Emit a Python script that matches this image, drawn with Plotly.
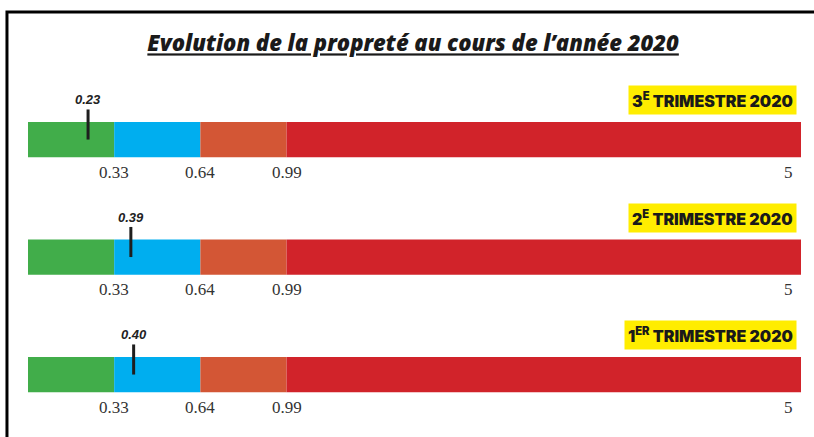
import numpy as np
import plotly.graph_objects as go

# ---- data ----
periods = ["1<sup>ER</sup> TRIMESTRE 2020", "2<sup>E</sup> TRIMESTRE 2020", "3<sup>E</sup> TRIMESTRE 2020"]
values = [0.40, 0.39, 0.23]
bounds = [0, 0.33, 0.64, 0.99, 5]
tick_labels = ["0.33", "0.64", "0.99", "5"]
seg_colors = ["#41AD4A", "#00AEEF", "#D35635", "#D1232A"]
title = "Evolution de la propreté au cours de l’année 2020"

# piecewise display scale (first three bands equal width, last band long)
slots = [0, 1, 2, 3, 8.97]
def pos(v):
    return float(np.interp(v, bounds, slots))

rows = list(range(len(periods)))
fig = go.Figure()

for k in range(len(bounds) - 1):
    a, b = pos(bounds[k]), pos(bounds[k + 1])
    fig.add_trace(go.Bar(
        orientation="h", y=rows, x=[b - a] * len(rows), base=[a] * len(rows),
        width=0.3, marker=dict(color=seg_colors[k], line=dict(width=0)),
        showlegend=False, hoverinfo="skip"))

mx, my = [], []
for r, v in zip(rows, values):
    mx += [pos(v), pos(v), None]
    my += [r, r + 0.256, None]
fig.add_trace(go.Scatter(x=mx, y=my, mode="lines", line=dict(color="#1e1e1e", width=3),
                         showlegend=False, hoverinfo="skip"))

ann = []
for r, v, p in zip(rows, values, periods):
    ann.append(dict(x=pos(v), y=r + 0.34, text=f"<b><i>{v:.2f}</i></b>", showarrow=False,
                    font=dict(family="Liberation Sans", size=13, color="#222"), xanchor="center", yanchor="middle"))
    ann.append(dict(x=0.995, xref="paper", y=r + 0.336, text=p, showarrow=False,
                    bgcolor="#FFED00", borderpad=3, xanchor="right", yanchor="middle",
                    font=dict(family="Inter", size=16, color="#1a1a1a", weight=900)))
    for t, bv in zip(tick_labels, bounds[1:]):
        last = bv == bounds[-1]
        ann.append(dict(x=pos(bv), y=r - 0.277, text=t, showarrow=False,
                        xanchor="right" if last else "center", xshift=-6 if last else 0, yanchor="middle",
                        font=dict(family="Liberation Serif", size=17, color="#333")))

fig.update_layout(
    width=814, height=437,
    margin=dict(l=28, r=13, t=60, b=7),
    paper_bgcolor="white", plot_bgcolor="white",
    barmode="overlay",
    title=dict(text=f"<i><u>{title}</u></i>", x=0.5075, xanchor="center", y=0.9, yanchor="middle",
               yref="container", font=dict(family="Open Sans", size=22, color="#1a1a1a", weight=800)),
    xaxis=dict(range=[0, slots[-1]], visible=False, fixedrange=True),
    yaxis=dict(range=[-0.472, 2.677], visible=False, fixedrange=True),
    annotations=ann,
    shapes=[dict(type="rect", xref="paper", yref="paper", x0=-0.0272, x1=1.2, y0=-0.2, y1=1.13,
                 line=dict(color="black", width=3), fillcolor="rgba(0,0,0,0)", layer="above")],
)

fig.write_html("out.html")
